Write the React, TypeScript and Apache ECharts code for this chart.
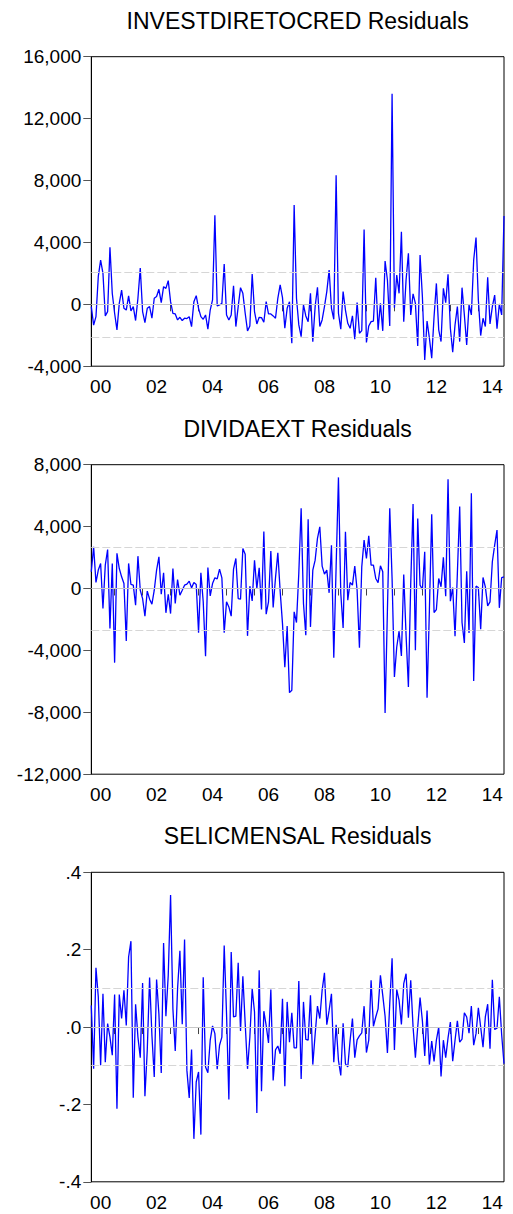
import React, { useEffect, useRef } from "react";
import * as echarts from "echarts";

const START_YEAR = 2000;
const START_MONTH = 3; // March 2000
const N_MONTHS = 178; // Mar 2000 .. Dec 2014

const months: string[] = [];
for (let k = 0; k < N_MONTHS; k++) {
  const m = START_MONTH - 1 + k;
  const y = START_YEAR + Math.floor(m / 12);
  const mm = (m % 12) + 1;
  months.push(`${y}-${mm < 10 ? "0" + mm : mm}`);
}

const titles = [
  "INVESTDIRETOCRED Residuals",
  "DIVIDAEXT Residuals",
  "SELICMENSAL Residuals",
];

const investResid = [
  -150, -1350, -800, 1800, 2860, 2000, -750, -470, 3680, 700,
  -580, -1650, 60, 920, -260, -370, 540, -430, -150, -1050,
  390, 2340, -470, -1180, -260, -150, -900, 390, 500, 970,
  110, 1140, 1030, 1530, 170, -580, -620, -1010, -840, -1050,
  -900, -920, -800, -1440, 170, 560, -260, -800, -970, -690,
  -1610, -370, 280, 5760, -110, -40, 60, 2600, -690, -1010,
  -690, 1200, -1440, -150, 1075, 710, -580, -1720, -1400, 1960,
  -470, -1270, -840, -860, -1160, 170, -620, -620, -750, -900,
  390, 1250, 430, -1550, -260, 170, -2520, 6410, 390, -1330,
  -2090, -40, -750, -1120, 710, -2410, -150, 1100, -1440, -1010,
  -150, 820, 2210, -260, -970, 8340, -580, -1610, 820, -370,
  -1230, -1550, -750, -2260, 110, -1870, -1700, 4840, -2470, -1400,
  -1120, -1080, 1720, -1650, 60, -1720, 2800, 1570, -1400, 13610,
  -215, 1890, 710, 4690, -1120, 1570, 3290, -690, 670, 60,
  -2690, 3180, 490, -3590, -1080, -2190, -3480, -800, 1350, -1650,
  -2410, 1030, 110, 1935, -1550, -3100, -1330, -150, -2410, 1075,
  -690, -2620, -40, -690, 2860, 4320, 280, -2020, -900, -1440,
  1740, -1270, -150, 600, -1570, 20, -690, 5700,
];

const dividResid = [
  1080, 2700, 390, 1190, 1620, -1290, 1510, 2520, -2590, 1620,
  -4790, 2270, 1290, 755, 320, -3390, 1620, 260, 215, -1080,
  2090, -110, -650, -1790, -170, -690, -1010, -110, 1190, 2050,
  -370, 1010, -1570, -370, -1620, 1290, -970, 580, -430, -110,
  215, 280, 475, 40, 390, 260, -2850, 1010, -860, -4380,
  1360, -475, 320, 690, 625, 1250, 690, -2850, -860, -1190,
  -1790, 1250, 1940, -650, -690, 2590, 2220, -3060, 150, -800,
  1830, 0, 1340, -1360, 3690, -1660, -860, 2420, -1230, 690,
  2310, -170, -2270, -5090, -2420, -6730, -6580, -1510, -2200, 1000,
  5180, -970, -3020, 4470, -2480, 1190, 1830, 3240, 3990, 1450,
  930, 1190, -280, 2800, -4470, 1400, 7180, -320, -2550, 3670,
  -755, 390, 215, 1450, -110, -3820, 1400, 3130, 1940, 3410,
  1510, 1510, 650, 370, 1470, 1080, -8050, -1400, 5180, 650,
  -5720, -3780, -2760, -4360, 910, -3020, -6360, 320, 5460, -3990,
  4530, 215, -65, 2370, -7060, -1400, 4790, -1550, -1360, 650,
  110, 2010, -500, 7060, -820, 65, -3090, 970, 5290, -2200,
  -3520, 1120, -2870, 6150, -5980, 150, 65, -2630, 710, 110,
  -1120, -860, 1730, 2800, 3780, -1250, 710, 755,
];

const selicResid = [
  0.056, -0.108, 0.153, 0.078, -0.099, 0.086, -0.091, 0.009, -0.026, -0.073,
  0.084, -0.211, 0.084, 0.022, 0.095, 0.004, 0.181, 0.222, -0.183, 0.059,
  -0.026, -0.079, 0.114, -0.179, -0.06, 0.128, -0.022, -0.129, 0.123, 0.033,
  -0.119, 0.217, 0.028, 0.134, 0.341, 0.047, -0.062, 0.099, 0.197, 0.007,
  0.226, -0.112, -0.183, -0.058, -0.289, -0.142, -0.116, -0.278, 0.129, -0.103,
  -0.118, -0.034, 0.003, -0.017, -0.109, -0.047, -0.026, 0.211, 0.034, -0.187,
  0.194, 0.026, 0.028, 0.166, -0.01, 0.131, 0.009, -0.108, -0.026, 0.099,
  0.039, -0.222, 0.147, -0.166, 0.041, 0.004, -0.041, 0.097, -0.138, -0.059,
  -0.049, -0.069, 0.073, -0.153, 0.065, -0.039, 0.037, -0.054, -0.054, 0.119,
  -0.134, 0.065, -0.032, -0.034, 0.082, -0.097, -0.019, 0.054, 0.022, 0.095,
  0.14, 0.006, 0.043, 0.086, -0.091, 0.006, -0.086, -0.125, 0.01, -0.095,
  -0.103, -0.034, 0.022, -0.079, -0.033, -0.023, -0.015, 0.054, -0.066, -0.034,
  0.121, 0.002, 0.026, 0.047, 0.134, 0.082, 0.028, -0.067, 0.06, 0.178,
  -0.059, 0.097, 0.069, 0.007, 0.112, 0.138, 0.024, 0.121, 0.0, -0.079,
  0.0, 0.076, 0.016, -0.075, 0.043, -0.097, -0.036, -0.089, -0.034, 0.0,
  -0.128, -0.034, -0.079, -0.028, 0.013, -0.088, -0.034, 0.016, -0.039, -0.031,
  0.037, 0.026, -0.016, 0.054, -0.047, -0.017, 0.05, 0.0, -0.052, 0.026,
  0.059, -0.056, 0.122, -0.006, -0.003, 0.078, -0.02, -0.095,
];

// +/- one standard error bands
const bands = [2100, 2680, 0.102];
const yMins = [-4000, -12000, -0.4];
const yMaxs = [16000, 8000, 0.4];
const yIntervals = [4000, 4000, 0.2];
const seriesData = [investResid, dividResid, selicResid];

const FONT = 'Arial, "Liberation Sans", Helvetica, sans-serif';

const GRID_LEFT = 91.3;
const GRID_WIDTH = 412.7;
const gridTops = [56.7, 464.7, 872.3];
const GRID_HEIGHT = 309.5;
const titleYs = [20.5, 428.5, 836];

function fmtThousands(v: number) {
  const s = Math.abs(v).toFixed(0).replace(/\B(?=(\d{3})+(?!\d))/g, ",");
  return (v < 0 ? "-" : "") + s;
}
function fmtDecimal(v: number) {
  const r = Math.round(v * 10) / 10;
  if (r === 0) return ".0";
  return (r < 0 ? "-" : "") + Math.abs(r).toFixed(1).replace(/^0/, "");
}

export default function App() {
  const ref = useRef<HTMLDivElement>(null);
  useEffect(() => {
    document.body.style.margin = "0";
    const chart = echarts.init(ref.current!, null, { renderer: "svg" });
    const grids = gridTops.map((t) => ({
      left: GRID_LEFT,
      top: t,
      width: GRID_WIDTH,
      height: GRID_HEIGHT,
      show: true,
      borderColor: "#000",
      borderWidth: 1,
      backgroundColor: "#fff",
    }));
    const xAxes = [0, 1, 2].map((g) => ({
      type: "category",
      gridIndex: g,
      data: months,
      boundaryGap: false,
      axisLine: { lineStyle: { color: "#000", width: 1 } },
      axisTick: {
        interval: (_i: number, v: string) => v.slice(5) === "01",
        length: 7,
        lineStyle: { color: "#444" },
      },
      axisLabel: {
        interval: (_i: number, v: string) =>
          v.slice(5) === "07" && parseInt(v.slice(0, 4), 10) % 2 === 0,
        formatter: (v: string) => v.slice(2, 4),
        fontSize: 19,
        fontFamily: FONT,
        color: "#000",
        margin: 11,
      },
      splitLine: { show: false },
    }));
    const yAxes = [0, 1, 2].map((g) => ({
      type: "value",
      gridIndex: g,
      min: yMins[g],
      max: yMaxs[g],
      interval: yIntervals[g],
      axisLine: { show: true, lineStyle: { color: "#000", width: 1 } },
      axisTick: { show: true, length: 8, lineStyle: { color: "#555" } },
      axisLabel: {
        formatter: g === 2 ? fmtDecimal : fmtThousands,
        fontSize: 19,
        fontFamily: FONT,
        color: "#000",
        margin: 10,
      },
      splitLine: { show: false },
    }));
    const series: any[] = [];
    [0, 1, 2].forEach((g) => {
      series.push({
        type: "line",
        xAxisIndex: g,
        yAxisIndex: g,
        data: [],
        z: 1,
        silent: true,
        markLine: {
          silent: true,
          symbol: "none",
          label: { show: false },
          animation: false,
          data: [
            { yAxis: 0, lineStyle: { type: "solid", color: "#c8c8c8", width: 1 } },
            { yAxis: bands[g], lineStyle: { type: [8, 3], color: "#d6d6d6", width: 1 } },
            { yAxis: -bands[g], lineStyle: { type: [8, 3], color: "#d6d6d6", width: 1 } },
          ],
        },
      });
      series.push({
        type: "line",
        xAxisIndex: g,
        yAxisIndex: g,
        data: seriesData[g],
        showSymbol: false,
        symbol: "none",
        z: 3,
        lineStyle: { color: "#0000ff", width: 1.3 },
      });
    });
    chart.setOption({
      animation: false,
      backgroundColor: "#fff",
      grid: grids,
      xAxis: xAxes,
      yAxis: yAxes,
      series,
      graphic: titles.map((t, g) => ({
        type: "text",
        x: GRID_LEFT + GRID_WIDTH / 2,
        y: titleYs[g],
        style: {
          text: t,
          font: `23px ${FONT}`,
          fill: "#000",
          textAlign: "center",
          textVerticalAlign: "middle",
        },
      })),
    });
    return () => chart.dispose();
  }, []);
  return <div ref={ref} style={{ width: 513, height: 1214 }} />;
}
